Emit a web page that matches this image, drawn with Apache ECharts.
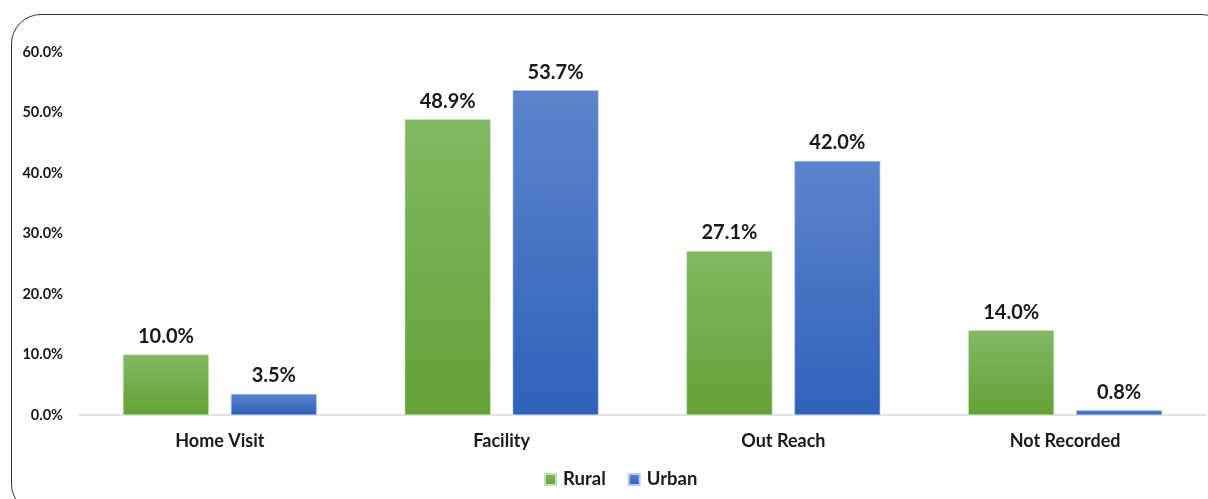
<!DOCTYPE html>
<html>
<head>
<meta charset="utf-8">
<script src="https://cdn.jsdelivr.net/npm/echarts@6/dist/echarts.min.js"></script>
<style>
  html, body { margin: 0; padding: 0; overflow: hidden; background: #fff; }
  .frame {
    position: absolute; left: 11px; top: 14px; width: 1220px; height: 500px;
    border: 1.5px solid #333; border-radius: 30px; box-sizing: border-box;
  }
  #chart { position: absolute; left: 0; top: 0; width: 1208px; height: 499px; }
</style>
</head>
<body>
<div class="frame"></div>
<div id="chart"></div>
<script>
const categories = ['Home Visit', 'Facility', 'Out Reach', 'Not Recorded'];
const rural = [10.0, 48.9, 27.1, 14.0];
const urban = [3.5, 53.7, 42.0, 0.8];
const yTicks = [0, 10, 20, 30, 40, 50, 60];

const font = 'Lato, "Open Sans", sans-serif';

function grad(top, bottom) {
  return new echarts.graphic.LinearGradient(0, 0, 0, 1, [
    { offset: 0, color: top },
    { offset: 1, color: bottom }
  ]);
}

const chart = echarts.init(document.getElementById('chart'));
chart.setOption({
  animation: false,
  textStyle: { fontFamily: font },
  grid: { left: 79, right: 2, top: 52, bottom: 84 },
  legend: {
    bottom: 5,
    left: 539,
    icon: 'rect',
    itemWidth: 11,
    itemHeight: 11,
    itemGap: 22,
    textStyle: { fontSize: 18.5, fontWeight: 'bold', color: '#1a1a1a', fontFamily: font, padding: [0, 0, 0, 2] },
    data: ['Rural', 'Urban']
  },
  xAxis: {
    type: 'category',
    data: categories,
    axisTick: { show: false },
    axisLine: { lineStyle: { color: '#d9d9d9', width: 1.5 } },
    axisLabel: { fontSize: 18, fontWeight: 'bold', color: '#1a1a1a', margin: 17 }
  },
  yAxis: {
    type: 'value',
    min: yTicks[0],
    max: yTicks[yTicks.length - 1],
    interval: 10,
    splitLine: { show: false },
    axisLine: { show: false },
    axisTick: { show: false },
    axisLabel: {
      fontSize: 14.5, fontWeight: 'bold', color: '#1a1a1a', margin: 16,
      formatter: v => v.toFixed(1) + '%'
    }
  },
  series: [
    {
      name: 'Rural',
      type: 'bar',
      data: rural,
      barWidth: '30.5%',
      barGap: '25.6%',
      itemStyle: { color: grad('#82b964', '#62a235'), borderColor: '#c8e0b8', borderWidth: 0.6 },
      label: {
        show: true, position: 'top', distance: 8,
        fontSize: 20, fontWeight: 'bold', color: '#1a1a1a',
        formatter: p => p.value.toFixed(1) + '%'
      }
    },
    {
      name: 'Urban',
      type: 'bar',
      data: urban,
      barWidth: '30.5%',
      itemStyle: { color: grad('#5c84cd', '#2e62b9'), borderColor: '#b8cbec', borderWidth: 0.6 },
      label: {
        show: true, position: 'top', distance: 8,
        fontSize: 20, fontWeight: 'bold', color: '#1a1a1a',
        formatter: p => p.value.toFixed(1) + '%'
      }
    }
  ]
});
window.addEventListener('resize', () => chart.resize());
</script>
</body>
</html>
